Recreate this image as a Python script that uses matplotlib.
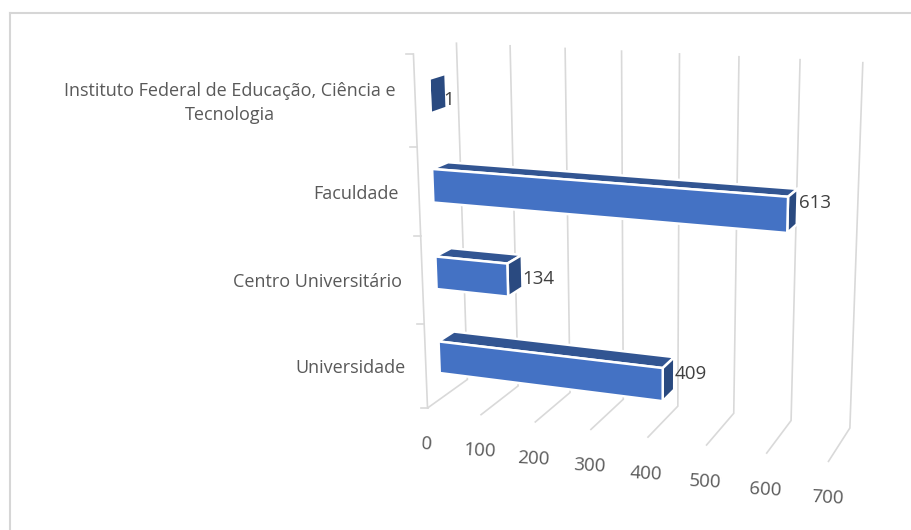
import matplotlib
matplotlib.use("Agg")
import matplotlib.pyplot as plt
from matplotlib.patches import Polygon
import numpy as np

categories = ["Universidade", "Centro Universitário", "Faculdade",
              "Instituto Federal de Educação, Ciência e\nTecnologia"]
values = [409, 134, 613, 1]
ticks = [0, 100, 200, 300, 400, 500, 600, 700]

# camera of the 3d box: (value, depth, height) -> pixel, fitted on the box edges
front_floor = [(428, 408), (480, 415), (535, 423), (591, 430), (647, 437), (706, 446), (766, 454), (828, 462)]
back_floor = [(467, 379), (518, 386), (570, 393), (623, 399), (678, 407), (734, 413), (791, 420), (850, 428)]
back_top = [(457, 43), (510, 45), (565, 47), (622, 50), (679, 53), (739, 56), (800, 59), (863, 62)]
wall_top = (413, 54)

# nudges of the value labels, in pixels
label_dx = [-2, -2, 0, -5]
label_dy = [1, 8, -4, 9]


def fit_camera():
    world = []
    pix = []
    for i, t in enumerate(ticks):
        world += [(t, 0, 0), (t, 1, 0), (t, 1, 4)]
        pix += [front_floor[i], back_floor[i], back_top[i]]
    world.append((0, 0, 4))
    pix.append(wall_top)
    A = []
    b = []
    for (x, y, z), (u, v) in zip(world, pix):
        A.append([x, y, z, 1, 0, 0, 0, 0, -u * x, -u * y, -u * z])
        b.append(u)
        A.append([0, 0, 0, 0, x, y, z, 1, -v * x, -v * y, -v * z])
        b.append(v)
    p = np.linalg.lstsq(np.array(A, float), np.array(b, float), rcond=None)[0]
    return np.append(p, 1).reshape(3, 4)


cam = fit_camera()


def proj(x, y, z):
    u, v, w = cam @ np.array([x, y, z, 1.0])
    return u / w, v / w


fig = plt.figure(figsize=(9.12, 5.30), dpi=100)
ax = fig.add_axes([0, 0, 1, 1])
ax.set_xlim(0, 912)
ax.set_ylim(530, 0)
ax.axis("off")

# chart frame
ax.plot([10.3, 10.3], [530, 13.3], color="#d6d6d6", lw=1.5)
ax.plot([10.3, 912], [13.3, 13.3], color="#d6d6d6", lw=1.5)

grid = "#d9d9d9"
for i, t in enumerate(ticks):
    pts = [proj(t, 0, 0), proj(t, 1, 0), proj(t, 1, 4)]
    ax.plot(*zip(*pts), color=grid, lw=1.2, solid_capstyle="butt", solid_joinstyle="miter")
    lx, ly = proj(t, 0, 0)
    ax.text(lx - 1, ly + 36, str(t), ha="center", va="center", fontsize=13.5, color="#595959",
            rotation=-3, family="Open Sans")

ax.plot(*zip(proj(0, 0, 0), proj(0, 0, 4)), color=grid, lw=1.2)
for h in range(5):
    x0, y0 = proj(0, 0, h)
    ax.plot([x0 - 7, x0], [y0, y0], color=grid, lw=1.2)

d0, d1 = 0.32, 0.70
half = 0.19
front_col = "#4472c4"
top_col = "#325592"
side_col = "#2a4a80"

for i, (name, val) in enumerate(zip(categories, values)):
    c = i + 0.5
    lo, hi = c - half, c + half
    top = [proj(0, d0, hi), proj(val, d0, hi), proj(val, d1, hi), proj(0, d1, hi)]
    side = [proj(val, d0, lo), proj(val, d0, hi), proj(val, d1, hi), proj(val, d1, lo)]
    front = [proj(0, d0, lo), proj(val, d0, lo), proj(val, d0, hi), proj(0, d0, hi)]
    for poly, col in ((top, top_col), (side, side_col), (front, front_col)):
        ax.add_patch(Polygon(poly, closed=True, facecolor=col, edgecolor="white", lw=1.8,
                             joinstyle="miter", zorder=3))
    bx, by = proj(val, d1, c)
    ax.text(bx + 2 + label_dx[i], by + label_dy[i], str(val), ha="left", va="center", fontsize=13.5,
            color="#404040", family="Open Sans", zorder=4)
    wx, wy = proj(0, 0, c)
    ax.text(wx - 20, wy + 2, name, ha="right", va="center", fontsize=13,
            color="#595959", family="Open Sans", linespacing=1.45,
            multialignment="center")

fig.savefig("out.png", dpi=100)
